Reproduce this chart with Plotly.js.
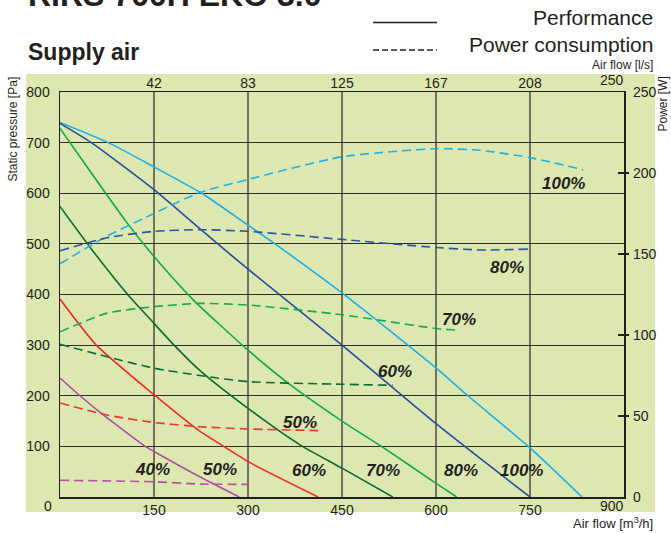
<!DOCTYPE html>
<html>
<head>
<meta charset="utf-8">
<script src="https://cdn.plot.ly/plotly-3.0.1.min.js"></script>
<style>
html,body{margin:0;padding:0;background:#fff;}
#chart{width:671px;height:533px;}
</style>
</head>
<body>
<div id="chart"></div>
<script>
// ---- Data (air flow in m3/h, static pressure in Pa, power in W) ----
const perfFlow100 = [0, 77, 150, 226, 300, 343, 450, 555, 600, 651, 750, 833];
const perfPres100 = [740, 700, 652, 600, 537, 500, 403, 300, 255, 200, 97, 0];
const perfFlow80 = [0, 50, 150, 223, 300, 450, 600, 750];
const perfPres80 = [738, 700, 607, 530, 450, 300, 145, 0];
const perfFlow70 = [0, 50, 106, 150, 213, 300, 364, 450, 519, 600, 633];
const perfPres70 = [728, 640, 543, 475, 389, 290, 225, 150, 95, 27, 0];
const perfFlow60 = [0, 50, 108, 150, 182, 223, 300, 383, 450, 531];
const perfPres60 = [574, 490, 400, 343, 300, 250, 175, 103, 57, 0];
const perfFlow50 = [0, 58, 150, 223, 260, 300, 412];
const perfPres50 = [391, 300, 202, 130, 101, 70, 0];
const perfFlow40 = [0, 32, 64, 136, 150, 223, 286];
const perfPres40 = [235, 200, 167, 100, 90, 40, 0];

const powFlow100 = [0, 75, 150, 223, 300, 450, 600, 670, 750, 835];
const powW100 = [144, 161, 175, 188, 196, 210, 215, 214, 209.5, 202];
const powFlow80 = [0, 75, 150, 223, 300, 450, 600, 670, 747];
const powW80 = [152, 160, 164, 165, 164, 159, 154, 152.5, 153];
const powFlow70 = [0, 75, 150, 223, 300, 450, 600, 635];
const powW70 = [102, 113.5, 117.5, 119.5, 118.5, 112.5, 104, 103];
const powFlow60 = [0, 75, 150, 223, 300, 450, 531];
const powW60 = [94.3, 86.6, 79.5, 75, 71.2, 69.6, 69];
const powFlow50 = [0, 75, 150, 223, 300, 412];
const powW50 = [58, 50.6, 46, 43.4, 42, 41];
const powFlow40 = [0, 150, 223, 300];
const powW40 = [10.3, 9.4, 8, 7.8];

const bottomTicks = [150, 300, 450, 600, 750];
const bottomTickText = ['150', '300', '450', '600', '750'];
const topTickText = ['42', '83', '125', '167', '208'];
const pressureTicks = [100, 200, 300, 400, 500, 600, 700, 800];
const powerTicks = [0, 50, 100, 150, 200, 250];
const powerMarkTicks = [50, 100, 150, 200];

const speedLabels = ['100%', '80%', '70%', '60%', '50%', '40%'];

// ---- Styles ----
const colors = {
  s100: '#1fb0e6', s80: '#274d9e', s70: '#13a84c', s60: '#0b6a34', s50: '#ee2b2b', s40: '#a653a3'
};
const powColors = {
  s100: '#1fb0e6', s80: '#2a55a6', s70: '#19aa50', s60: '#0d6a36', s50: '#ee3535', s40: '#b350a6'
};
const FONT = 'Liberation Sans, Arial, Helvetica, sans-serif';
const TXT = '#231f20';

// plot frame in pixels
const L = 60, R = 624, T = 92, B = 497;
const px = v => (v - L) / (R - L);
const py = v => (B - v) / (B - T);

function perf(x, y, c) {
  return {x: x, y: y, type: 'scatter', mode: 'lines', xaxis: 'x', yaxis: 'y',
    line: {color: c, width: 1.6, shape: 'spline', smoothing: 0.6}, hoverinfo: 'skip', showlegend: false};
}
function pow(x, y, c) {
  return {x: x, y: y, type: 'scatter', mode: 'lines', xaxis: 'x', yaxis: 'y2',
    line: {color: c, width: 1.6, dash: '9px,5px', shape: 'spline', smoothing: 0.6}, hoverinfo: 'skip', showlegend: false};
}

const data = [
  pow(powFlow100, powW100, powColors.s100),
  pow(powFlow80, powW80, powColors.s80),
  pow(powFlow70, powW70, powColors.s70),
  pow(powFlow60, powW60, powColors.s60),
  pow(powFlow50, powW50, powColors.s50),
  pow(powFlow40, powW40, powColors.s40),
  perf(perfFlow100, perfPres100, colors.s100),
  perf(perfFlow80, perfPres80, colors.s80),
  perf(perfFlow70, perfPres70, colors.s70),
  perf(perfFlow60, perfPres60, colors.s60),
  perf(perfFlow50, perfPres50, colors.s50),
  perf(perfFlow40, perfPres40, colors.s40),
  {x: [], y: [], type: 'scatter', xaxis: 'x2', yaxis: 'y', showlegend: false},
  {x: [], y: [], type: 'scatter', xaxis: 'x', yaxis: 'y3', showlegend: false},
  {x: [], y: [], type: 'scatter', xaxis: 'x', yaxis: 'y4', showlegend: false}
];

const lblFont = {family: FONT, size: 17, color: TXT, weight: 'bold', style: 'italic'};
function lbl(text, x, y) {
  return {text: text, x: x, y: y, xref: 'x', yref: 'y', xanchor: 'center', yanchor: 'middle',
    showarrow: false, font: lblFont};
}
function ptxt(text, x, y, size, opts) {
  return Object.assign({text: text, x: px(x), y: py(y), xref: 'paper', yref: 'paper', showarrow: false,
    xanchor: 'center', yanchor: 'middle',
    font: {family: FONT, size: size, color: TXT}}, opts || {});
}

const annotations = [
  lbl(speedLabels[0], 803, 620),
  lbl(speedLabels[1], 713, 453),
  lbl(speedLabels[2], 637, 350),
  lbl(speedLabels[3], 535, 247),
  lbl(speedLabels[4], 383, 148),
  lbl(speedLabels[5], 147, 55),
  lbl(speedLabels[4], 255, 55),
  lbl(speedLabels[3], 397, 53),
  lbl(speedLabels[2], 515, 53),
  lbl(speedLabels[1], 640, 53),
  lbl(speedLabels[0], 736, 53),
  // corner tick labels
  ptxt('0', 48, 506, 14),
  ptxt('900', 612, 506, 14),
  ptxt('250', 612, 80, 14),
  // titles
  ptxt('<b>RIRS 700H EKO 3.0</b>', 26, 7, 32, {xanchor: 'left', yanchor: 'bottom', yshift: -8}),
  ptxt('<b>Supply air</b>', 26, 52, 23, {xanchor: 'left', yanchor: 'middle'}),
  ptxt('Performance', 655, 17, 21, {xanchor: 'right', yanchor: 'middle'}),
  ptxt('Power consumption', 655, 44, 21, {xanchor: 'right', yanchor: 'middle'}),
  ptxt('Air flow [l/s]', 655, 65, 12, {xanchor: 'right', yanchor: 'middle'}),
  ptxt('Air flow [m<sup>3</sup>/h]', 655, 523, 13, {xanchor: 'right', yanchor: 'middle'}),
  ptxt('Static pressure [Pa]', 13, 75, 12, {xanchor: 'center', yanchor: 'top', textangle: -90}),
  ptxt('Power [W]', 663, 75, 12, {xanchor: 'center', yanchor: 'top', textangle: -90})
];

const shapes = [
  {type: 'rect', xref: 'paper', yref: 'paper', x0: px(26), x1: px(655), y0: py(512), y1: py(74),
   fillcolor: '#dce8b0', line: {width: 0}, layer: 'below'},
  {type: 'line', xref: 'paper', yref: 'paper', x0: px(373), x1: px(437), y0: py(22.5), y1: py(22.5),
   line: {color: TXT, width: 1.5}},
  {type: 'line', xref: 'paper', yref: 'paper', x0: px(373), x1: px(437), y0: py(50), y1: py(50),
   line: {color: TXT, width: 1.5, dash: '6px,3px'}}
];

const tickFont = {family: FONT, size: 14, color: TXT};

const layout = {
  width: 671, height: 533,
  margin: {l: L, r: 671 - R, t: T, b: 533 - B, pad: 0},
  paper_bgcolor: 'rgba(0,0,0,0)',
  plot_bgcolor: 'rgba(0,0,0,0)',
  showlegend: false,
  xaxis: {range: [0, 900], tickvals: bottomTicks, ticktext: bottomTickText, ticks: '',
    showgrid: true, gridcolor: '#72725f', gridwidth: 2, zeroline: false,
    showline: true, linecolor: '#231f20', linewidth: 1.5, mirror: true,
    tickfont: tickFont, fixedrange: true},
  xaxis2: {range: [0, 900], overlaying: 'x', side: 'top', tickvals: bottomTicks, ticktext: topTickText,
    ticks: '', showgrid: false, zeroline: false, showline: false, tickfont: tickFont},
  yaxis: {range: [0, 800], tickvals: pressureTicks, ticks: '', ticklabelstandoff: 6,
    showgrid: true, gridcolor: '#2f2f2a', gridwidth: 1, zeroline: false,
    showline: true, linecolor: '#231f20', linewidth: 1.5, mirror: true,
    tickfont: tickFont},
  yaxis2: {range: [0, 250], overlaying: 'y', side: 'right', tickvals: powerTicks, ticks: '',
    ticklabelstandoff: 8, showgrid: false, zeroline: false, showline: false, tickfont: tickFont},
  yaxis3: {range: [0, 250], overlaying: 'y', side: 'right', tickvals: powerMarkTicks, ticks: 'outside',
    ticklen: 4, tickwidth: 1.5, tickcolor: '#231f20', showticklabels: false, showgrid: false, zeroline: false, showline: false},
  yaxis4: {range: [0, 250], overlaying: 'y', side: 'right', tickvals: powerMarkTicks, ticks: 'inside',
    ticklen: 6, tickwidth: 1.5, tickcolor: '#231f20', showticklabels: false, showgrid: false, zeroline: false, showline: false},
  annotations: annotations,
  shapes: shapes
};

Plotly.newPlot('chart', data, layout, {staticPlot: true, displayModeBar: false});
</script>
</body>
</html>
